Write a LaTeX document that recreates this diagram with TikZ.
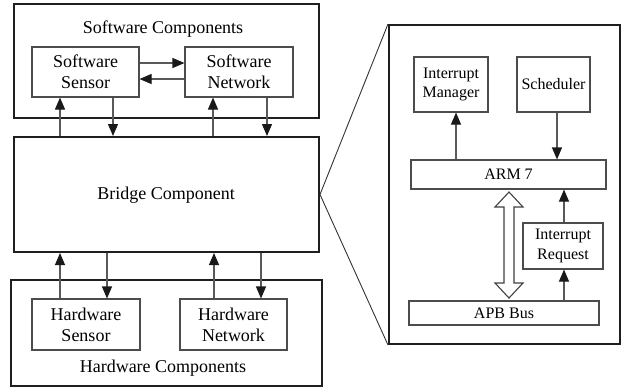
\documentclass[tikz,border=0pt]{standalone}
\usepackage{fontspec}
\setmainfont{Liberation Serif}
\usetikzlibrary{arrows.meta}
\newcommand{\bigfs}{\fontsize{9pt}{10.5pt}\selectfont}
\newcommand{\smfs}{\fontsize{8pt}{9.6pt}\selectfont}
\begin{document}
\begin{tikzpicture}[x=0.5pt,y=-0.5pt,
  outerbox/.style={draw=black!88, line width=1pt, inner sep=0pt},
  innerbox/.style={draw=black!70, line width=0.55pt, inner sep=0pt, align=center, font=\bigfs},
  rbox/.style={draw=black!70, line width=0.55pt, inner sep=0pt, align=center, font=\smfs},
  lbl/.style={inner sep=0pt, font=\bigfs},
  conn/.style={draw=black!65, line width=0.55pt, -{Triangle[length=6pt,width=5pt,black!90]}},
  thin/.style={draw=black!80, line width=0.45pt}
]
\useasboundingbox (0,0) rectangle (621,388);
% left side
\node[outerbox, minimum width=152.5pt, minimum height=57pt] (swc) at (166.5,61) {};
\node[lbl] (swct) at (163,29) {Software Components};
\node[innerbox, minimum width=53.5pt, minimum height=25pt] (ss) at (85.5,72) {Software\\Sensor};
\node[innerbox, minimum width=54pt, minimum height=25pt] (sn) at (239,72) {Software\\Network};
\node[outerbox, minimum width=152.5pt, minimum height=57.5pt] (br) at (166.5,194.5) {};
\node[lbl] (brt) at (166,195) {Bridge Component};
\node[outerbox, minimum width=155.5pt, minimum height=53pt] (hwc) at (166.5,333) {};
\node[lbl] (hwct) at (163,368) {Hardware Components};
\node[innerbox, minimum width=54pt, minimum height=25.5pt] (hs) at (86,324.5) {Hardware\\Sensor};
\node[innerbox, minimum width=53.5pt, minimum height=25.5pt] (hn) at (233.5,324.5) {Hardware\\Network};
% left connectors
\draw[conn] (ss.east |- 0,63) -- (sn.west |- 0,63);
\draw[conn] (sn.west |- 0,79) -- (ss.east |- 0,79);
\draw[conn] (br.north -| 60,0) -- (ss.south -| 60,0);
\draw[conn] (ss.south -| 113,0) -- (br.north -| 113,0);
\draw[conn] (br.north -| 213,0) -- (sn.south -| 213,0);
\draw[conn] (sn.south -| 267,0) -- (br.north -| 267,0);
\draw[conn] (hs.north -| 60,0) -- (br.south -| 60,0);
\draw[conn] (br.south -| 107,0) -- (hs.north -| 107,0);
\draw[conn] (hn.north -| 214,0) -- (br.south -| 214,0);
\draw[conn] (br.south -| 261,0) -- (hn.north -| 261,0);
% right panel
\node[outerbox, minimum width=115.5pt, minimum height=159.5pt] (arm) at (504.5,184.5) {};
\draw[thin] (br.east) -- (arm.north west);
\draw[thin] (br.east) -- (arm.south west);
\node[rbox, minimum width=37pt, minimum height=27.5pt] (im) at (451,84.5) {Interrupt\\Manager};
\node[rbox, minimum width=36.5pt, minimum height=27.5pt] (sch) at (553.5,84.5) {Scheduler};
\node[rbox, minimum width=97.5pt, minimum height=14.5pt] (cpu) at (508.5,174.5) {ARM 7};
\node[rbox, minimum width=40pt, minimum height=23pt] (ir) at (563,246) {Interrupt\\Request};
\node[rbox, minimum width=95pt, minimum height=12pt] (apb) at (504,313) {APB Bus};
\draw[conn] (cpu.north -| 456,0) -- (im.south -| 456,0);
\draw[conn] (sch.south -| 557,0) -- (cpu.north -| 557,0);
\draw[conn] (ir.north -| 564,0) -- (cpu.south -| 564,0);
\draw[conn] (apb.north -| 564,0) -- (ir.south -| 564,0);
% hollow double arrow
\draw[draw=black!75, line width=0.55pt, fill=white]
  (509,192) -- (523,207) -- (514,207) -- (514,283) -- (523,283) -- (509,298)
  -- (495,283) -- (504,283) -- (504,207) -- (495,207) -- cycle;
\end{tikzpicture}
\end{document}
